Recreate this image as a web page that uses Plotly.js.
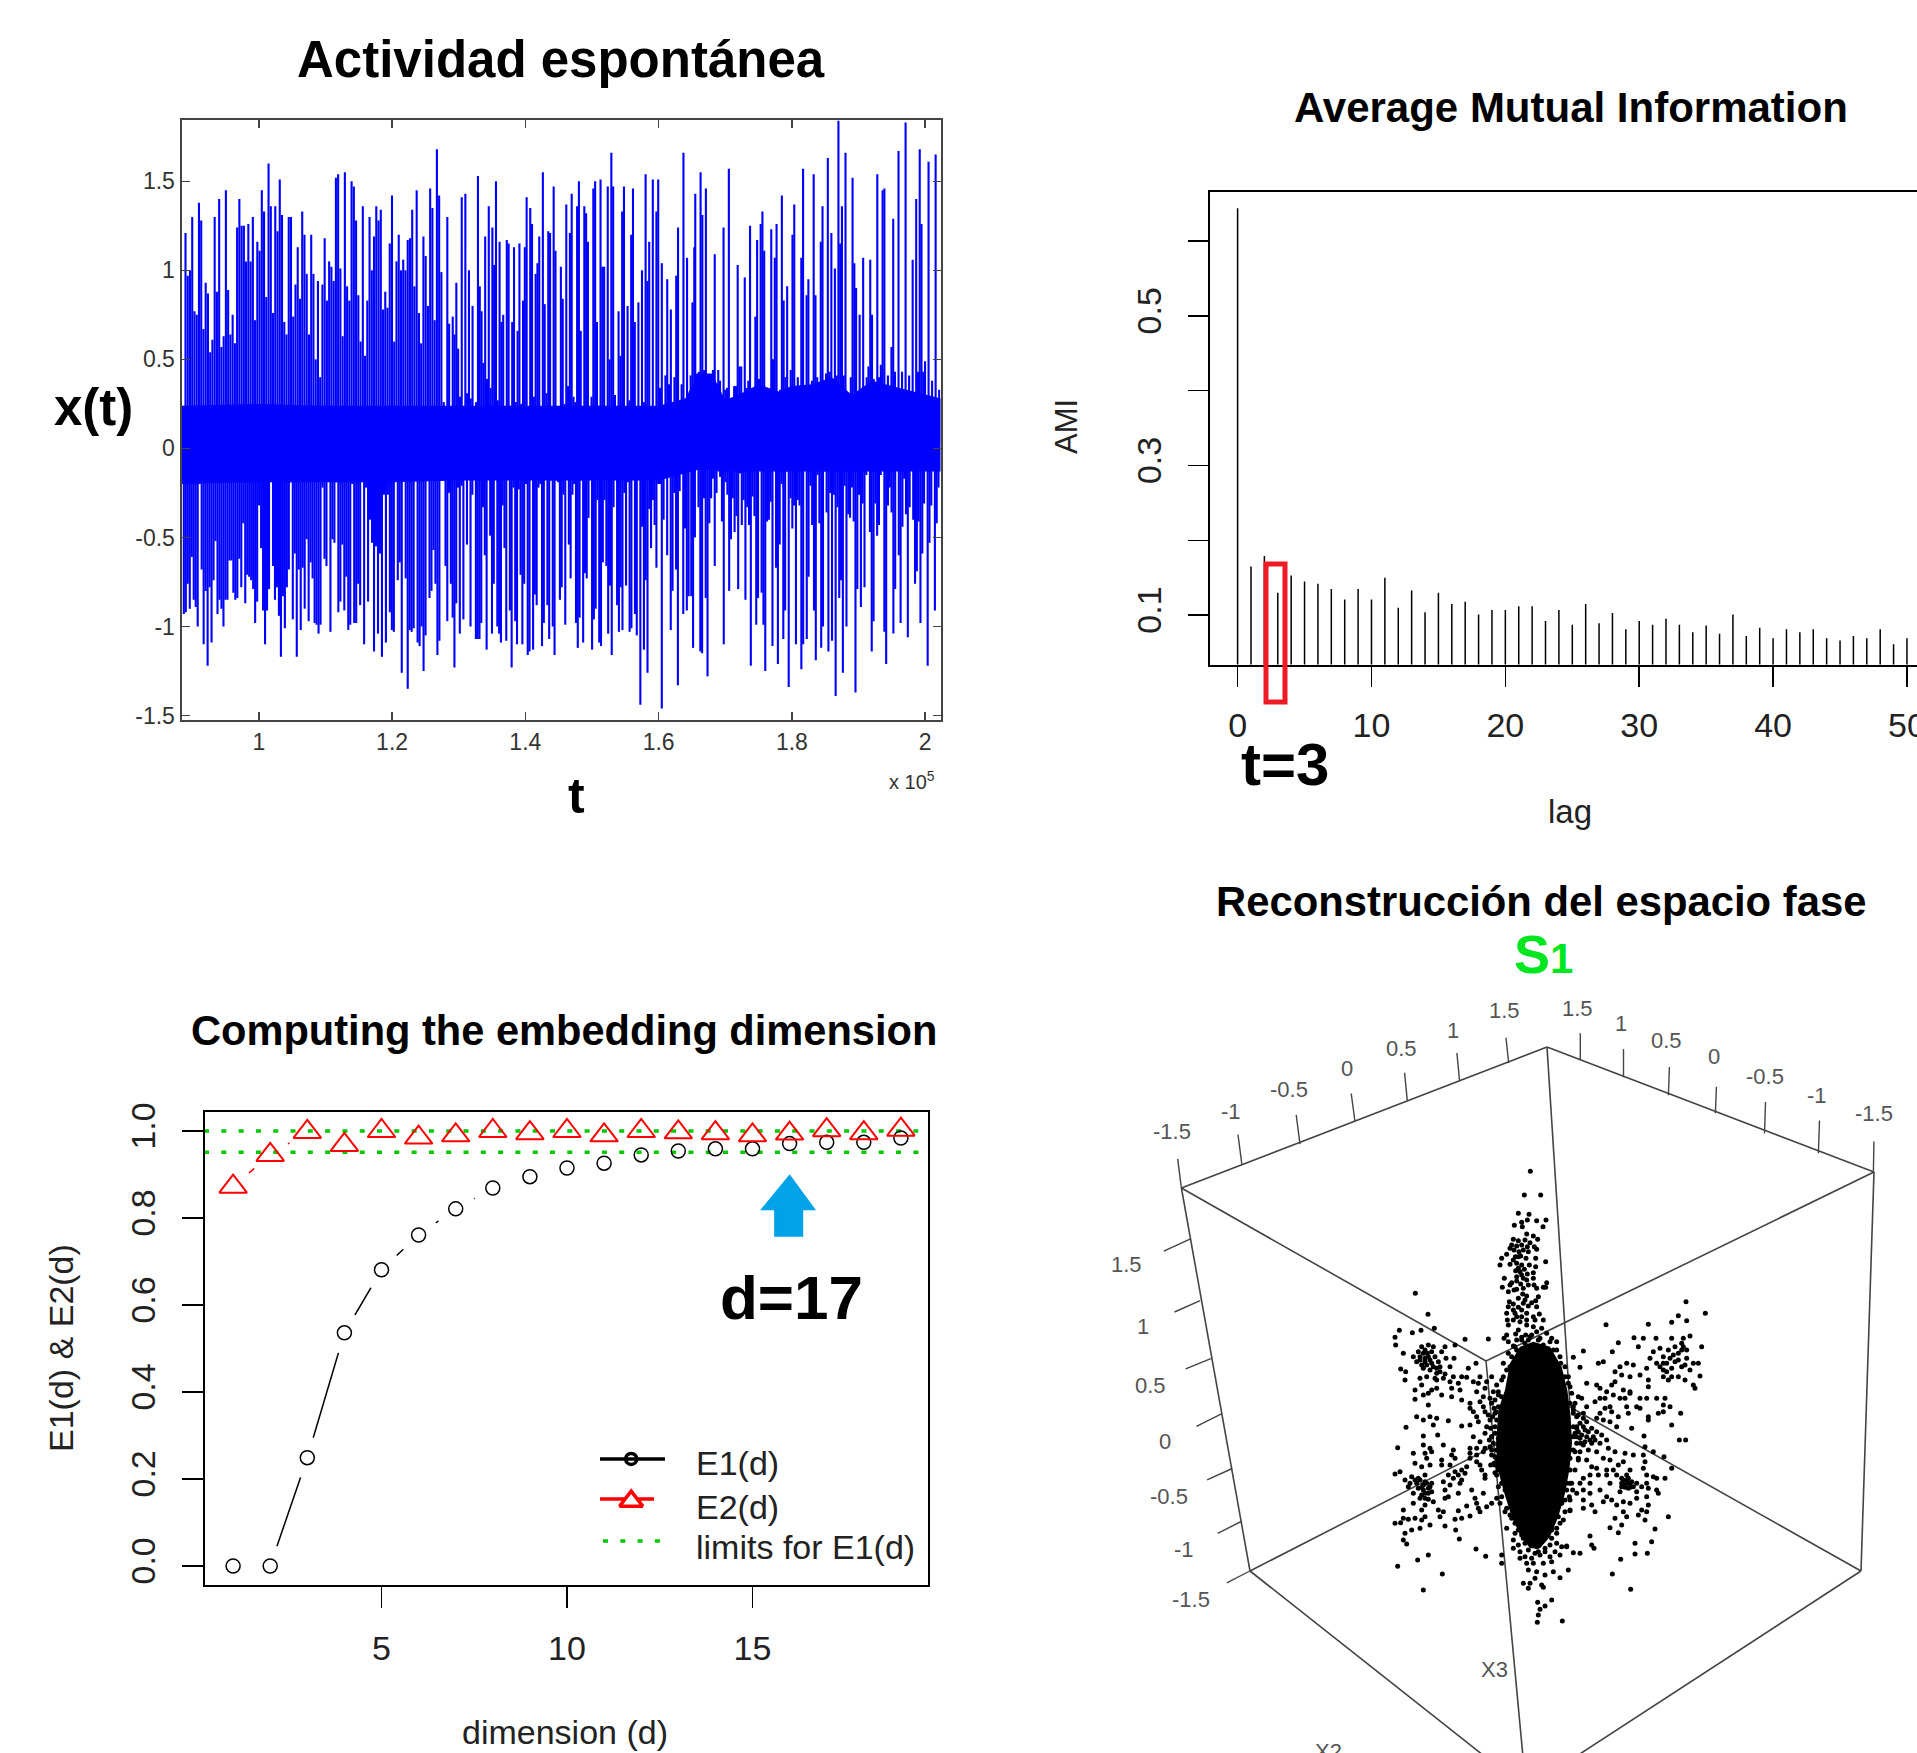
<!DOCTYPE html>
<html><head><meta charset="utf-8">
<script src="https://cdn.plot.ly/plotly-3.0.1.min.js"></script>
<style>html,body{margin:0;padding:0;background:#fff;overflow:hidden}#g{width:1917px;height:1753px}</style>
</head><body><div id="g"></div>
<script>
// ---- Panel 1: spontaneous activity: positive and negative excursions, three stretches of time
const up1=[1.21,.97,1.0,1.30,.77,.75,1.38,1.28,.67,.93,.87,.54,.61,1.30,.88,1.40,.57,.63,1.45,.89,.64,.75,.59,1.24,1.40,1.25,1.25,1.05,1.26,1.05,1.30,.72,1.16,1.11,1.45,1.33,.85,1.60,1.36,.76,1.36,1.22,1.51,1.31,.71,.64,1.30,1.30,.74,.92,1.13,.84,1.33,1.20,.98,.64,1.20,.98,.50,.94,.40,.92,1.18,.83,1.05,1.02,.94,1.52,1.54,1.01,.63,1.55,.91,.83,1.50,1.47,1.28,.86,.60,1.36,.52,.83,1.30,1.00,1.19,1.36,1.28,1.34,.78,.88,.79,1.15,1.42,.60,1.05,1.20,1.0,1.06,1.0,1.17,1.18,1.34,.91,1.45,.76,.59,1.19,1.08,.80,1.46,1.35,.72,1.68,1.42,.99];
const up2=[.26,.23,1.30,.70,.23,.74,.64,.93,.56,.29,1.41,.19,1.43,.31,1.0,.28,.80,.22,.26,1.53,.91,.77,.48,1.19,.39,1.36,.34,1.24,1.03,1.50,.27,1.16,.71,.75,.21,1.17,1.15,.24,.71,1.13,.26,.66,1.15,.25,.83,1.13,1.41,.21,1.35,1.26,.29,.98,1.04,1.19,.17,1.55,.81,.31,1.22,1.21,.19,1.47,1.11,.17,.19,1.02,.84,.25,1.37,.35,1.21,1.43,.29,.26,1.36,1.50,.66,.23,1.36,1.32,1.16,.22,.29,1.46,1.50,.71,.24,1.51,1.02,1.02,.22,1.47,.50,1.66,1.47,.30,.23,.77,.52,1.33,1.47,.16,.80,.27,1.20,1.46,.71,.23,.82,.23,1.0,.26,1.54,.94,1.16,.13,1.51,.23,1.33,1.51,.34,1.04,.19,.41,.95,.36,.78,.13,.40,.97,1.24,.26,.36,1.66,.07,1.07,.26,.41,.82,1.13];
const up3=[1.43,.42,.43,1.55,1.31,.44,1.46,.22,.24,.27,.44,1.09,.32,.44,.38,.06,1.24,.33,.34,1.57,.08,.27,.35,.35,1.03,.46,.46,.27,.96,.34,.38,1.25,.26,.28,.74,1.17,.39,1.26,1.33,1.11,.30,.31,.26,1.23,.50,1.07,1.26,.25,.33,1.42,.83,.40,.91,.29,.44,1.20,1.37,.19,.40,.28,1.07,1.57,.34,.86,.95,.35,.38,1.54,.86,.40,.30,1.16,1.36,.24,.42,1.63,.43,1.21,.22,1.01,.41,1.84,1.15,1.36,.41,1.66,.17,.27,.40,1.52,1.04,.90,.26,.75,.23,1.07,.34,.40,.46,1.06,.75,.39,.23,1.54,.40,.47,1.45,1.46,.33,.41,.13,.57,1.29,.43,.10,1.67,.32,.43,.22,1.83,.22,.41,.22,1.06,.19,1.40,.43,1.68,1.26,.43,.49,.24,1.61,.27,.38,.21,1.65,.27,.33];
const lo1=[-.93,-.92,-.76,-.90,-.61,-.85,-.89,-1.0,-.20,-.68,-1.10,-.80,-1.22,-.78,-1.09,-.74,-.52,-.93,-.85,-.90,-1.0,-.85,-.85,-.63,-.63,-.81,-.85,-.84,-.62,-.78,-.42,-.87,-.71,-.72,-.74,-.79,-.98,-.86,-.32,-.56,-.91,-1.10,-.91,-.79,-.14,-.66,-.85,-.78,-.94,-1.17,-.83,-1.01,-.78,-.68,-.19,-.96,-.59,-1.17,-.68,-1.02,-.67,-.90,-.51,-.97,-.64,-.73,-.98,-.99,-1.04,-.99,-.22,-.62,-.66,-.09,-1.03,-.51,-.53,-.19,-.92,-.86,-.54,-.91,-.72,-1.02,-.99,-.20,-.98,-.98,-.76,-.88,-.16,-1.10,-.22,-.86,-.40,-.53,-1.14,-.55,-1.04,-.59,-1.17,-.26,-1.09,-.26,-.92,-1.02,-1.03,-.07,-.74,-.64,-1.26,-.15,-.73,-1.35,-1.02,-1.03,-1.01,-.18,-1.09,-1.11,-1.0,-1.25,-1.05,-.09,-.84,-.80,-.57,-.76,-1.16,-1.08,-.14];
const lo2=[-.14,-.66,-.97,-.25,-.76,-.95,-1.23,-.87,-.22,-1.04,-.21,-.96,-.16,-.54,-.17,-1.0,-.26,-.15,-1.07,-1.07,-1.07,-.98,-.33,-.60,-1.13,-.17,-.49,-1.04,-.76,-.07,-1.0,-1.04,-1.09,-.32,-.56,-1.08,-.10,-.91,-1.23,-.22,-.97,-1.10,-.23,-.71,-1.10,-.76,-.20,-1.16,-1.14,-.15,-1.13,-.82,-.88,-.22,-.20,-1.11,-.98,-.11,-.88,-1.07,-.18,-1.0,-1.16,-.18,-.19,-.85,-.78,-.26,-.99,-.13,-.54,-.73,-.26,-.20,-.98,-1.12,-.95,-.18,-1.09,-.70,-.73,-.39,-.10,-1.13,-.96,-.90,-.29,-1.09,-1.11,-.64,-.29,-.66,-1.04,-.77,-1.16,-.33,-.13,-.88,-1.03,-.78,-1.02,-.25,-.77,-.19,-1.03,-1.01,-.16,-.93,-1.05,-.12,-1.44,-.44,-1.13,-.74,-1.26,-.34,-.56,-.29,-.43,-.67,-.20,-.20,-1.46,-.40,-.07,-.60,-.12,-1.02,-.80,-.25,-.68,-1.33,-.24,-.11,-.93,-.45,-.91,-.83];
const lo3=[-.83,-1.12,-.50,.02,-.33,-1.14,-1.15,-.28,-.84,-1.28,-.42,-.28,-.17,-.66,-.25,-.13,-.16,-.41,-1.10,-.19,-.26,-.80,-.51,-.28,-.47,-.38,-.79,-.14,-.43,-.29,-.85,-.33,-.43,-1.22,-.27,-.38,-.99,-.84,-.10,-.81,-.99,-1.25,-.41,-.40,-.30,-1.11,-.04,-.67,-1.21,-.54,-.20,-1.07,-.91,-.13,-1.34,-.28,-.45,-.32,-1.10,-.29,-.32,-1.24,-1.10,-.08,-1.07,-.72,-.21,-.43,-.91,-1.19,-.15,-.42,-1.12,-1.0,-.13,-.36,-1.14,-.25,-1.08,-.26,-1.39,-.33,-.84,-.74,-1.26,-.21,-1.0,-.37,-.39,-.22,-.41,-1.37,-.79,-.26,-.89,-.31,-.78,-.15,-.02,-.47,-1.14,-.97,-.31,-.49,-.43,-.15,-.02,-1.03,-1.21,-.32,-.22,-.36,-1.04,-.79,-.05,-.60,-.98,-.44,-.17,-.37,-1.06,-.33,-.06,-.40,-.76,-.69,-.41,-.98,-.59,-.31,-.10,-1.22,-.53,-.32,-.10,-.91,-.42,-.22];
const upSpan=[[.89,1.274],[1.2775,1.6535],[1.655,2.021]];
const loSpan=[[.8875,1.274],[1.2775,1.645],[1.649,2.02]];
const coreT=[.883,1.0,1.1,1.2,1.3,1.4,1.5,1.6,1.64,1.66,1.68,1.70,1.73,1.75,1.78,1.80,1.83,1.86,1.89,1.92,1.95,1.98,2.024];
const coreHi=[.24,.25,.24,.24,.24,.24,.24,.24,.28,.42,.42,.27,.32,.36,.32,.35,.36,.4,.3,.38,.35,.32,.28];
const coreLo=[-.2,-.19,-.19,-.19,-.18,-.18,-.18,-.18,-.14,-.12,-.12,-.13,-.13,-.13,-.13,-.13,-.13,-.13,-.13,-.13,-.13,-.13,-.13];
const t1Vals=[1,1.2,1.4,1.6,1.8,2], t1Text=['1','1.2','1.4','1.6','1.8','2'];
const v1Vals=[-1.5,-1,-.5,0,.5,1,1.5], v1Text=['-1.5','-1','-0.5','0','0.5','1','1.5'];

// ---- Panel 2: Average Mutual Information
const lags=[0,1,2,3,4,5,6,7,8,9,10,11,12,13,14,15,16,17,18,19,20,21,22,23,24,25,26,27,28,29,30,31,32,33,34,35,36,37,38,39,40,41,42,43,44,45,46,47,48,49,50];
const ami=[.644,.165,.179,.13,.153,.145,.142,.135,.121,.135,.121,.15,.11,.133,.104,.13,.115,.118,.101,.107,.107,.112,.112,.092,.107,.087,.115,.089,.103,.081,.092,.087,.095,.087,.077,.086,.075,.101,.072,.083,.069,.081,.077,.081,.069,.066,.072,.069,.081,.061,.069];
const lagTicks=[0,10,20,30,40,50];
const amiTicks=[.1,.3,.5], amiText=['0.1','0.3','0.5'], amiMinor=[.2,.4,.6];

// ---- Panel 3: embedding dimension
const dims=[1,2,3,4,5,6,7,8,9,10,11,12,13,14,15,16,17,18,19];
const e1=[0,0,.249,.536,.681,.761,.821,.869,.895,.915,.926,.945,.954,.959,.959,.971,.974,.974,.984];
const e2=[.872,.945,.998,.968,1.0,.985,.99,1.0,.995,1.0,.99,1.0,.997,.995,.99,.994,1.002,.995,1.003];
const limits=[1,.951];
const limitSpan=[.216,19.73];
const dimTicks=[5,10,15];
const eTicks=[0,.2,.4,.6,.8,1], eText=['0.0','0.2','0.4','0.6','0.8','1.0'];
const legendNames=['E1(d)','E2(d)','limits for E1(d)'];
const legendY=[1463,1507,1547];

// ---- Panel 4: phase-space reconstruction, projected view coordinates
const coreU=[490,540,575,592,602,606,598,585,565,540,510,480,450,425,400,382,378,385,405,420,450];
const coreV=[575,590,650,720,800,880,960,1030,1100,1160,1195,1195,1155,1100,1020,950,880,780,720,640,590];
const ptsU=[481,463,512,445,477,472,455,433,457,500,528,519,470,490,503,430,445,465,480,425,440,455,472,493,500,432,447,420,410,395,390,436,452,468,497,527,440,420,455,478,497,445,463,437,450,490,472,403,425,440,460,470,490,420,452,492,397,440,530,520,527,415,432,460,500,458,470,465,505,497,485,418,430,475,415,445,500,455,435,410,470,508,490,440,412,430,450,495,520,415,470,490,445,410,402,437,467,515,500,530,485,440,455,415,475,510,545,430,560,
136,174,193,88,75,77,127,153,285,355,255,100,155,175,190,225,145,165,185,215,130,150,175,195,205,228,252,140,165,185,210,240,295,318,92,107,160,180,200,225,250,275,290,105,150,170,195,240,265,325,345,155,135,185,200,245,270,310,330,365,380,350,370,135,160,175,215,245,275,320,340,360,385,300,330,365,175,300,340,310,345,180,140,200,160,235,320,355,360,190,108,275,300,325,350,375,203,345,160,310,330,365,
83,220,160,180,185,165,300,320,345,360,250,300,130,245,320,340,215,255,170,300,320,365,380,135,180,155,215,240,290,330,375,385,335,345,275,255,90,75,265,285,235,125,145,165,105,120,140,165,185,220,250,275,115,155,175,240,270,345,130,165,185,225,235,305,265,315,340,150,175,130,165,190,225,380,365,320,290,350,155,100,205,220,265,325,330,300,165,100,115,135,155,92,75,210,255,275,180,225,150,125,257,105,268,100,110,318,347,175,143,83,395,395,217,160,
948,1006,925,905,950,708,835,858,792,820,745,640,727,960,940,905,935,995,805,915,870,850,895,935,610,685,700,630,840,880,910,950,970,860,890,925,945,985,830,790,770,750,880,905,960,735,755,780,810,880,925,990,680,735,725,835,895,945,970,975,835,650,690,710,760,780,730,750,625,635,690,705,675,765,780,860,885,810,830,900,880,770,800,810,720,705,650,690,725,775,880,865,745,835,932,835,680,700,720,905,785,740,620,610,640,
650,630,610,625,645,665,680,605,630,650,670,695,595,620,640,665,690,710,822,928,947,610,630,655,680,715,735,765,825,850,882,600,625,650,700,720,745,790,820,825,905,885,665,680,710,730,760,820,640,660,685,710,740,780,830,850,860,600,630,660,720,755,770,765,780,755,775,800,830,815,640,690,660,750,800,835,860,865,620,710,640,665,725,760,800,830,600,700,740,780,835,815,675,600,640,760,830,805,895,770,735,825,755,720,855,745,660,795,845,665,672,590,610,630,752,795,832,727,782,
410,435,455,480,520,545,430,445,465,500,540,560,575,430,450,475,495,525,555,465,485,510,540,570,470,490,520,545,595,475,500,525,550,570,495,460,480,515,475,520,545,503,525,510,505,502,577,590,450,440,560,580,600,585,590,605,600,
375,365,370,380,372,385,380,395,395,410,420,435,470,610,620,600,612,590,575,565,545,400,410,425,440,465,520,550,572,585,595,600,395,385,380,
368,378,362,375,358,385,365,392,375,362,382,390,375,400,385,405,390,415,405,425,430,445,460,480,505,525,545,560,570,585,598,608,615,625,615,632,620,610,625,640,615,605,600,595,585,570,560,540,505,480,455,435,415,420,400,395,385,375,372,
150,160,170,160,175,145,135,155,180,165,760,770,775,765,785,755,780,770,790,160,172,165,180,150,170,155,190,200,210,220,200,640,655,620,635,660,615,645,675,880,900,915,935,890,905,925,940,870,950,445,430,460,475,440,455,475,445,460,430,455,470];
const ptsV=[64,135,135,190,193,210,217,226,230,212,210,230,252,258,268,268,272,270,278,285,288,285,290,290,298,300,305,295,313,325,345,320,318,325,325,335,340,343,345,345,350,355,358,362,365,368,372,385,398,393,385,390,385,405,402,405,412,418,398,412,412,425,420,415,415,432,438,450,440,452,458,455,462,468,470,472,470,480,490,490,490,492,500,500,510,510,515,510,510,525,525,530,540,555,565,552,555,535,545,550,555,570,562,575,570,565,565,588,575,
430,493,535,541,562,585,548,541,568,567,585,610,590,585,590,590,605,600,605,605,620,620,620,620,635,625,625,635,635,640,650,650,655,640,657,665,655,660,670,672,680,680,682,690,685,680,685,695,700,700,715,705,720,720,715,715,720,695,680,680,705,695,725,748,735,730,735,740,750,725,740,745,735,760,755,760,765,775,770,785,785,800,800,805,810,812,800,795,810,825,832,828,825,815,830,790,855,850,858,860,875,860,
893,885,885,895,905,910,895,895,895,890,900,910,910,915,915,905,930,925,925,925,935,915,925,940,945,950,945,945,950,945,945,960,960,975,960,965,965,972,975,970,975,980,985,975,990,1000,1000,995,1000,995,985,990,1010,1012,1015,1005,1000,985,1030,1030,1025,1020,1040,1020,1030,1045,1030,1045,1048,1060,1065,1055,1045,1045,1060,1060,1068,1070,1080,1080,1080,1085,1082,1075,1085,1098,1100,1105,1108,1105,1110,1118,1120,1100,1108,1105,1125,1128,1135,1140,1140,1150,1167,1170,1182,1197,1219,1215,1230,1249,1215,1240,1272,1320,
455,490,497,517,512,524,523,565,563,565,578,603,605,558,565,565,580,590,590,590,595,605,600,600,622,640,635,652,625,620,615,625,640,640,640,630,645,640,655,645,640,650,660,655,660,665,675,680,675,680,680,678,705,695,705,690,690,690,705,715,710,700,715,725,720,725,735,745,740,745,745,745,755,745,730,745,745,745,745,770,765,770,770,775,770,775,770,790,785,790,785,790,800,800,790,810,805,810,815,825,835,830,800,770,790,
815,820,830,845,840,835,845,860,865,860,860,855,875,880,885,880,880,870,858,870,870,900,905,900,905,895,905,910,890,905,920,925,925,930,925,930,945,915,915,935,955,985,950,955,960,960,935,955,985,975,975,975,975,960,975,980,985,1000,1000,1000,1000,985,990,1005,1000,1010,1015,1000,1000,1010,1020,1020,1030,1025,1025,1015,1020,1030,1030,1040,1050,1065,1050,1055,1045,1040,1050,1055,1065,1060,1065,1080,1085,1082,1075,1085,1085,1095,1100,1100,1105,1110,1125,1133,1137,1148,1158,1180,1175,1185,1195,1188,1208,1210,1228,1212,1210,1272,1318,
1135,1150,1155,1150,1150,1140,1170,1185,1180,1190,1185,1180,1190,1195,1205,1200,1210,1205,1205,1220,1225,1215,1220,1215,1240,1240,1240,1235,1260,1260,1265,1275,1265,1283,1285,1300,1300,1305,1315,1312,1350,1357,1368,1378,1395,1417,1413,1190,1225,1115,1135,1110,1080,1050,1020,1000,960,
830,860,880,900,940,950,975,1000,1040,1075,1095,1120,1140,790,830,900,860,1000,1060,1100,1130,680,660,620,600,580,585,600,640,680,700,760,740,770,810,
800,785,835,850,870,865,900,915,920,945,935,960,968,990,1010,1020,1060,1040,1085,1105,1085,1140,1165,1175,1205,1195,1165,1150,1120,1085,1040,1020,960,930,905,880,860,780,795,805,760,730,710,680,650,620,600,575,570,560,570,590,610,650,640,690,725,750,775,
990,1005,1000,1020,1030,1015,990,1035,1010,1045,990,1000,985,1012,995,1000,1012,975,1010,610,610,625,630,630,645,645,650,655,665,685,690,830,845,835,855,870,850,875,870,640,625,635,650,665,680,610,590,650,600,320,330,300,305,380,375,405,445,460,480,500,510];
// wire-box edges (screen projection)
const boxEdgesX=[[1547,1181.4],[1547,1874],[1181.4,1486],[1874,1486],[1181.4,1250],[1874,1861],[1547,1570],[1250,1570],[1861,1570],[1486,1526],[1250,1526],[1861,1526]];
const boxEdgesY=[[1047,1188],[1047,1172],[1188,1361],[1172,1361],[1188,1571],[1172,1571],[1047,1407],[1571,1407],[1571,1407],[1361,1789],[1571,1789],[1571,1789]];
const tickX=[[1177.7,1181.4],[1238,1241.8],[1296.2,1300],[1351.2,1355],[1404.6,1407.3],[1456.9,1459.6],[1506,1508.7],[1580.3,1580.3],[1623.5,1623.5],[1669.4,1668.4],[1716.4,1715.4],[1765.5,1764.5],[1819.5,1818.4],[1873.9,1873.4],[1163.8,1190.5],[1174.5,1200.1],[1185.7,1210.8],[1196.4,1221.5],[1207.1,1232.2],[1217.7,1241.2],[1226.8,1249.8]];
const tickY=[[1158.9,1188.1],[1134.6,1163.9],[1114.9,1144.2],[1093.5,1121.7],[1072.7,1100.9],[1053,1081.1],[1037.8,1063.1],[1033.3,1059.8],[1049.1,1077.2],[1067.1,1095.2],[1086.8,1113.2],[1102,1133.5],[1120.6,1153.2],[1141.4,1172.4],[1251.2,1238.8],[1312,1300.7],[1368.9,1358.7],[1426.3,1413.9],[1479.8,1468.5],[1533.3,1521.5],[1582.8,1571]];
const boxLabels=['-1.5','-1','-0.5','0','0.5','1','1.5','1.5','1','0.5','0','-0.5','-1','-1.5','1.5','1','0.5','0','-0.5','-1','-1.5','X3','X2'];
const boxLabelX=[1171.8,1231,1288.8,1347,1401.4,1452.7,1504.4,1577.6,1621.4,1666.2,1714.3,1764.5,1816.8,1874,1126.4,1143,1150.5,1165.4,1169.2,1184,1191,1494.8,1328];
const boxLabelY=[1131.8,1111,1089,1068.8,1048.5,1030.5,1010.8,1008,1023,1040,1056.4,1076,1095.2,1113.2,1264,1326,1385,1441,1496,1549.6,1599,1669.5,1751];

// ---- layout helpers
const W=1917,H=1753,FONT='"Liberation Sans",Arial,sans-serif';
const xDom=(a,b)=>[a/W,b/W], yDom=(t,b)=>[1-b/H,1-t/H];
const note=(px,py,text,size,bold,color,rot,anchor)=>({xref:'paper',yref:'paper',x:px/W,y:1-py/H,text:bold?'<b>'+text+'</b>':text,showarrow:false,xanchor:anchor||'center',yanchor:'middle',textangle:rot||0,font:{family:FONT,size:size,color:color||'#000'}});
const traces=[];
// panel 1
function spikes(vals,span,base){const x=[],y=[],n=vals.length;vals.forEach((v,i)=>{const t=span[0]+(span[1]-span[0])*i/(n-1);x.push(t,t,null);y.push(base,v,null)});return {x,y,type:'scatter',mode:'lines',line:{color:'#0000ff',width:2.1},xaxis:'x',yaxis:'y',showlegend:false,hoverinfo:'skip'}}
traces.push({x:coreT.concat(coreT.slice().reverse()),y:coreHi.concat(coreLo.slice().reverse()),type:'scatter',mode:'lines',fill:'toself',fillcolor:'#0000ff',line:{color:'#0000ff',width:0},xaxis:'x',yaxis:'y',showlegend:false,hoverinfo:'skip'});
[up1,up2,up3].forEach((a,i)=>traces.push(spikes(a,upSpan[i],0.03)));
[lo1,lo2,lo3].forEach((a,i)=>traces.push(spikes(a,loSpan[i],0.03)));
// panel 2
{const x=[],y=[];lags.forEach((l,i)=>{x.push(l,l,null);y.push(0,ami[i],null)});traces.push({x,y,type:'scatter',mode:'lines',line:{color:'#000',width:1.5},xaxis:'x2',yaxis:'y2',showlegend:false,hoverinfo:'skip'});}
// panel 3
const p3={xaxis:'x3',yaxis:'y3',type:'scatter',hoverinfo:'skip',showlegend:false};
traces.push({...p3,x:dims,y:e2,mode:'lines',line:{color:'#ff0000',width:1.5}});
traces.push({...p3,x:dims,y:e2,mode:'markers',marker:{symbol:'circle',size:42,color:'#fff'}});
traces.push({...p3,x:dims,y:e1,mode:'lines',line:{color:'#000',width:1.5}});
traces.push({...p3,x:dims,y:e1,mode:'markers',marker:{symbol:'circle',size:42,color:'#fff'}});
limits.forEach(l=>traces.push({...p3,x:limitSpan,y:[l,l],mode:'lines',line:{color:'#00c800',width:3.5,dash:'5px,12.3px'}}));
traces.push({...p3,x:dims,y:e1,mode:'markers',marker:{symbol:'circle-open',size:14,color:'#000',line:{color:'#000',width:1.5}}});
traces.push({...p3,x:dims,y:e2,mode:'markers',marker:{symbol:'triangle-up-open',size:24,color:'#ff0000',line:{color:'#ff0000',width:2}}});
// legend keys inside the plot
const keyE1X=[10.89,12.64], keyE2X=[10.89,12.345], keyLimX=[10.97,12.62], keyMarkX=[11.73];
const keyY=[.246,.154,.0575], keyTriY=[.149];
traces.push({...p3,x:keyE1X,y:[keyY[0],keyY[0]],mode:'lines',line:{color:'#000',width:3.5}});
traces.push({...p3,x:keyMarkX,y:[keyY[0]],mode:'markers',marker:{symbol:'circle-open',size:11,color:'#000',line:{color:'#000',width:3.5}}});
traces.push({...p3,x:keyE2X,y:[keyY[1],keyY[1]],mode:'lines',line:{color:'#ff0000',width:3.5}});
traces.push({...p3,x:keyMarkX,y:keyTriY,mode:'markers',marker:{symbol:'triangle-up',size:20,color:'#fff',line:{color:'#ff0000',width:3.5}}});
traces.push({...p3,x:keyLimX,y:[keyY[2],keyY[2]],mode:'lines',line:{color:'#00c800',width:3.5,dash:'5px,12.3px'}});
// panel 4
const p4={xaxis:'x4',yaxis:'y4',type:'scatter',hoverinfo:'skip',showlegend:false};
const viewX=u=>u/3+1370, viewY=v=>v/3+1150;
boxEdgesX.forEach((e,i)=>traces.push({...p4,x:e,y:boxEdgesY[i],mode:'lines',line:{color:'#444',width:1.6}}));
tickX.forEach((e,i)=>traces.push({...p4,x:e,y:tickY[i],mode:'lines',line:{color:'#444',width:1.4}}));
traces.push({...p4,x:coreU.concat(coreU[0]).map(viewX),y:coreV.concat(coreV[0]).map(viewY),mode:'lines',fill:'toself',fillcolor:'#000',line:{color:'#000',width:0}});
traces.push({...p4,x:ptsU.map(viewX),y:ptsV.map(viewY),mode:'markers',marker:{color:'#000',size:5}});

const axT={family:FONT,color:'#222'};
const layout={width:W,height:H,margin:{l:0,r:0,t:0,b:0},paper_bgcolor:'#fff',plot_bgcolor:'#fff',showlegend:false,
 xaxis:{domain:xDom(181.5,940.5),range:[.884,2.023],tickvals:t1Vals,ticktext:t1Text,ticks:'inside',ticklen:8,tickcolor:'#444',tickwidth:1.5,showline:true,linecolor:'#444',linewidth:2,mirror:'ticks',showgrid:false,zeroline:false,anchor:'y',tickfont:{...axT,size:23,color:'#333'}},
 yaxis:{domain:yDom(120,720),range:[-1.525,1.844],tickvals:v1Vals,ticktext:v1Text,ticks:'inside',ticklen:8,tickcolor:'#444',tickwidth:1.5,showline:true,linecolor:'#444',linewidth:2,mirror:'ticks',showgrid:false,zeroline:false,anchor:'x',tickfont:{...axT,size:23,color:'#333'}},
 xaxis2:{domain:xDom(1209.5,1917),range:[-2.1,50.75],tickvals:lagTicks,ticks:'outside',ticklen:20,tickwidth:1.5,tickcolor:'#000',showline:true,linecolor:'#000',linewidth:2,mirror:true,showgrid:false,zeroline:false,anchor:'y2',ticklabelstandoff:10,ticklabeloverflow:'allow',tickfont:{...axT,size:34}},
 yaxis2:{domain:yDom(192,664.5),range:[.034,.6657],tickvals:amiTicks,ticktext:amiText,ticks:'outside',ticklen:20,tickwidth:1.5,tickcolor:'#000',minor:{tickvals:amiMinor,ticks:'outside',ticklen:20,tickwidth:1.5,tickcolor:'#000',showgrid:false},showline:true,linecolor:'#000',linewidth:2,showgrid:false,zeroline:false,anchor:'x2',tickangle:-90,ticklabelstandoff:13,tickfont:{...axT,size:34}},
 xaxis3:{domain:xDom(204.5,927.5),range:[.229,19.717],tickvals:dimTicks,ticks:'outside',ticklen:21,tickwidth:1.5,tickcolor:'#000',showline:true,linecolor:'#000',linewidth:2,mirror:true,showgrid:false,zeroline:false,anchor:'y3',ticklabelstandoff:11,tickfont:{...axT,size:34}},
 yaxis3:{domain:yDom(1112,1585),range:[-.0437,1.0437],tickvals:eTicks,ticktext:eText,ticks:'outside',ticklen:21,tickwidth:1.5,tickcolor:'#000',showline:true,linecolor:'#000',linewidth:2,mirror:true,showgrid:false,zeroline:false,anchor:'x3',tickangle:-90,ticklabelstandoff:13,tickfont:{...axT,size:34}},
 xaxis4:{domain:xDom(1100,1917),range:[1100,1917],visible:false,anchor:'y4'},
 yaxis4:{domain:yDom(960,1753),range:[1753,960],visible:false,anchor:'x4'},
 shapes:[
  {type:'rect',xref:'paper',yref:'paper',x0:1266/W,x1:1285/W,y0:1-702/H,y1:1-564/H,line:{color:'#ed1c24',width:5},fillcolor:'rgba(0,0,0,0)'},
  {type:'path',xref:'x3',yref:'y3',path:'M16,.897 L16.66,.82 L16.34,.82 L16.34,.759 L15.61,.759 L15.61,.82 L15.26,.82 Z',fillcolor:'#00a2e8',line:{color:'#00a2e8',width:2}}
 ],
 annotations:[
  note(561,59,'Actividad espontánea',51,true),
  note(93,407,'x(t)',51,true),
  note(576,796,'t',50,true),
  note(912,781,'x 10<sup>5</sup>',20,false,'#333'),
  note(1571,108,'Average Mutual Information',42,true),
  note(1066,427,'AMI',31,false,'#222',-90),
  note(1570,812,'lag',33,false,'#222'),
  note(1285,765,'t=3',60,true),
  note(564,1030,'Computing the embedding dimension',41.6,true),
  note(61,1348,'E1(d) &amp; E2(d)',34,false,'#222',-90),
  note(565,1732,'dimension (d)',34,false,'#222'),
  note(791,1297,'d=17',62,true),
  note(1541,901,'Reconstrucción del espacio fase',41.8,true),
  note(1543,954,'S<span style="font-size:42px">1</span>',54,true,'#00e620'),
  ...legendNames.map((s,i)=>note(694,legendY[i],s,34,false,'#222',0,'left')),
  ...boxLabels.map((s,i)=>note(boxLabelX[i],boxLabelY[i],s,22,false,'#555'))
 ]};
Plotly.newPlot('g',traces,layout,{displayModeBar:false,staticPlot:true});
</script></body></html>
